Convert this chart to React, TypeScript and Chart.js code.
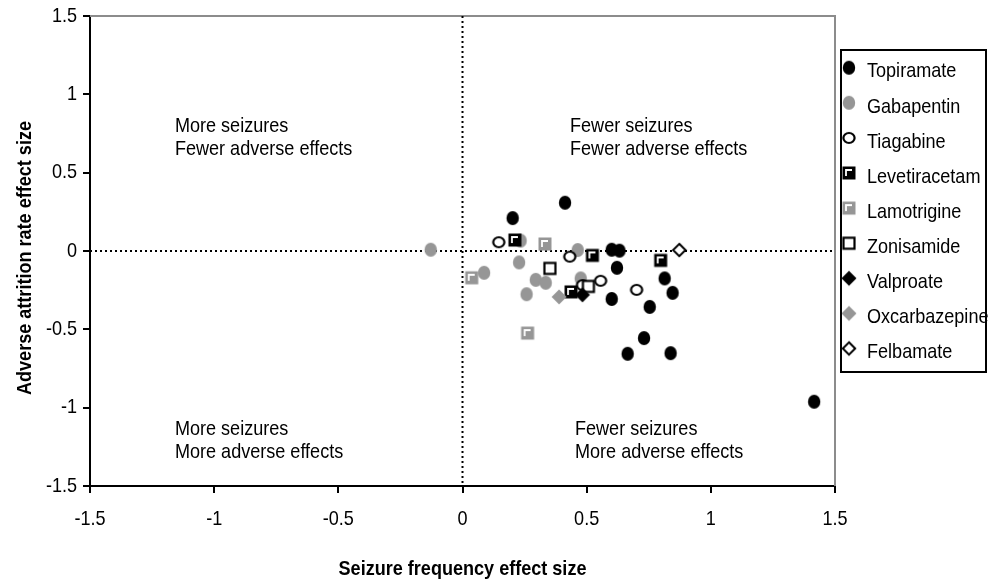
import React, { useEffect, useRef } from 'react';
import { Chart, registerables } from 'chart.js';

Chart.register(...registerables);

const FONT = "'Liberation Sans', Arial, sans-serif";
const SQUEEZE = 0.86; // horizontal condensing to mimic a narrow face

// ---- data (x = seizure frequency effect size, y = adverse attrition rate effect size)
const seriesNames = [
  'Topiramate', 'Gabapentin', 'Tiagabine', 'Levetiracetam', 'Lamotrigine',
  'Zonisamide', 'Valproate', 'Oxcarbazepine', 'Felbamate',
];

const topiramate = [
  [0.202, 0.21], [0.413, 0.308], [0.601, 0.008], [0.632, 0.002], [0.622, -0.107],
  [0.814, -0.175], [0.846, -0.267], [0.601, -0.306], [0.754, -0.357], [0.731, -0.556],
  [0.665, -0.656], [0.838, -0.652], [1.416, -0.962],
];
const gabapentin = [
  [-0.128, 0.008], [0.234, 0.066], [0.228, -0.073], [0.087, -0.139], [0.295, -0.184],
  [0.335, -0.203], [0.258, -0.276], [0.464, 0.006], [0.476, -0.175],
];
const tiagabine = [
  [0.146, 0.056], [0.432, -0.036], [0.556, -0.19], [0.483, -0.218], [0.701, -0.248],
];
const levetiracetam = [[0.211, 0.07], [0.523, -0.028], [0.798, -0.06], [0.437, -0.261]];
const lamotrigine = [[0.332, 0.045], [0.037, -0.171], [0.262, -0.524]];
const zonisamide = [[0.352, -0.111], [0.507, -0.226]];
const valproate = [[0.483, -0.28]];
const oxcarbazepine = [[0.389, -0.293]];
const felbamate = [[0.873, 0.006]];

const seriesData = [
  topiramate, gabapentin, tiagabine, levetiracetam, lamotrigine,
  zonisamide, valproate, oxcarbazepine, felbamate,
];

const xTicks = [-1.5, -1, -0.5, 0, 0.5, 1, 1.5];
const yTicks = [-1.5, -1, -0.5, 0, 0.5, 1, 1.5];

const xTitle = 'Seizure frequency effect size';
const yTitle = 'Adverse attrition rate effect size';

// quadrant captions anchored in data coordinates
const quadrantNotes = [
  { x: -1.158, y: 0.798, lines: ['More seizures', 'Fewer adverse effects'] },
  { x: 0.433, y: 0.798, lines: ['Fewer seizures', 'Fewer adverse effects'] },
  { x: -1.158, y: -1.135, lines: ['More seizures', 'More adverse effects'] },
  { x: 0.453, y: -1.135, lines: ['Fewer seizures', 'More adverse effects'] },
];

// ---- marker drawing
const GRAY = '#969696';
const markerKinds = [
  'dotBlack', 'dotGray', 'ring', 'sqBlackL', 'sqGrayL', 'sqOpen', 'diaBlack', 'diaGray', 'diaOpen',
];

function makeMarker(kind: string): HTMLCanvasElement {
  const c = document.createElement('canvas');
  c.width = 18;
  c.height = 18;
  const g = c.getContext('2d') as CanvasRenderingContext2D;
  const cx = 9;
  const cy = 9;
  const diamond = (r: number) => {
    g.beginPath();
    g.moveTo(cx, cy - r);
    g.lineTo(cx + r, cy);
    g.lineTo(cx, cy + r);
    g.lineTo(cx - r, cy);
    g.closePath();
  };
  switch (kind) {
    case 'dotBlack':
    case 'dotGray':
      g.fillStyle = kind === 'dotBlack' ? '#000' : GRAY;
      g.beginPath();
      g.ellipse(cx, cy, 6.2, 7.0, 0, 0, Math.PI * 2);
      g.fill();
      break;
    case 'ring':
      g.strokeStyle = '#000';
      g.fillStyle = '#fff';
      g.lineWidth = 2.2;
      g.beginPath();
      g.ellipse(cx, cy, 5.6, 5.0, 0, 0, Math.PI * 2);
      g.fill();
      g.stroke();
      break;
    case 'sqBlackL':
    case 'sqGrayL':
      g.fillStyle = kind === 'sqBlackL' ? '#000' : GRAY;
      g.fillRect(2.5, 2.5, 13, 13);
      g.strokeStyle = '#fff';
      g.lineWidth = 1.8;
      g.beginPath();
      g.moveTo(6, 12);
      g.lineTo(6, 6);
      g.lineTo(12, 6);
      g.stroke();
      break;
    case 'sqOpen':
      g.fillStyle = '#fff';
      g.fillRect(3.5, 3.5, 11, 11);
      g.strokeStyle = '#000';
      g.lineWidth = 2.2;
      g.strokeRect(3.5, 3.5, 11, 11);
      break;
    case 'diaBlack':
    case 'diaGray':
      g.fillStyle = kind === 'diaBlack' ? '#000' : GRAY;
      diamond(7.5);
      g.fill();
      break;
    case 'diaOpen':
      g.fillStyle = '#fff';
      g.strokeStyle = '#000';
      g.lineWidth = 2;
      diamond(6.2);
      g.fill();
      g.stroke();
      break;
  }
  return c;
}

function text(
  ctx: CanvasRenderingContext2D, s: string, x: number, y: number,
  opts: { size?: number; bold?: boolean; align?: CanvasTextAlign; rotate?: boolean } = {},
) {
  const { size = 21, bold = false, align = 'left', rotate = false } = opts;
  ctx.save();
  ctx.translate(x, y);
  if (rotate) ctx.rotate(-Math.PI / 2);
  ctx.scale(SQUEEZE, 1);
  ctx.font = `${bold ? 'bold ' : ''}${size}px ${FONT}`;
  ctx.textAlign = align;
  ctx.textBaseline = 'middle';
  ctx.fillStyle = '#000';
  ctx.fillText(s, 0, 0);
  ctx.restore();
}

export default function App() {
  const ref = useRef<HTMLCanvasElement | null>(null);

  useEffect(() => {
    document.body.style.margin = '0';
    const canvas = ref.current;
    if (!canvas) return;
    const markers = markerKinds.map(makeMarker);

    const datasets = seriesNames.map((name, i) => ({
      label: name,
      data: seriesData[i].map(([x, y]) => ({ x, y })),
      pointStyle: markers[i],
      pointRadius: 7,
      order: seriesNames.length - i,
      showLine: false,
    }));

    const overlay = {
      id: 'overlay',
      beforeDatasetsDraw(chart: any) {
        const { ctx, chartArea: a, scales } = chart;
        const xs = scales.x;
        const ys = scales.y;
        ctx.save();
        // top & right frame (gray)
        ctx.strokeStyle = '#8c8c8c';
        ctx.lineWidth = 2;
        ctx.beginPath();
        ctx.moveTo(a.left, a.top);
        ctx.lineTo(a.right, a.top);
        ctx.lineTo(a.right, a.bottom);
        ctx.stroke();
        // dotted zero lines
        ctx.strokeStyle = '#000';
        ctx.lineWidth = 2;
        ctx.setLineDash([2, 3]);
        const x0 = xs.getPixelForValue(0);
        const y0 = ys.getPixelForValue(0);
        ctx.beginPath();
        ctx.moveTo(x0, a.top);
        ctx.lineTo(x0, a.bottom);
        ctx.moveTo(a.left, y0);
        ctx.lineTo(a.right, y0);
        ctx.stroke();
        ctx.setLineDash([]);
        ctx.restore();
        // quadrant captions
        quadrantNotes.forEach((n) => {
          const px = xs.getPixelForValue(n.x);
          const py = ys.getPixelForValue(n.y);
          n.lines.forEach((t, k) => text(ctx, t, px, py + k * 23));
        });
      },
      afterDraw(chart: any) {
        const { ctx, chartArea: a, scales } = chart;
        const xs = scales.x;
        const ys = scales.y;
        // tick labels
        xTicks.forEach((v) => text(ctx, String(v), xs.getPixelForValue(v), a.bottom + 33, { align: 'center' }));
        yTicks.forEach((v) => text(ctx, String(v), a.left - 13, ys.getPixelForValue(v), { align: 'right' }));
        // axis titles
        text(ctx, xTitle, (a.left + a.right) / 2, 569, { bold: true, align: 'center' });
        text(ctx, yTitle, 25, 258, { bold: true, align: 'center', rotate: true });
        // legend
        ctx.save();
        const left = a.right + 6;
        const top = 50;
        const rowH = 35.1;
        const w = 145;
        const h = 322;
        ctx.fillStyle = '#fff';
        ctx.fillRect(left, top, w, h);
        ctx.restore();
        seriesNames.forEach((name, i) => {
          const cy = top + 21.7 + i * rowH;
          const m = markers[i];
          ctx.drawImage(m, left + 8 - m.width / 2, cy - 4 - m.height / 2);
          text(ctx, name, left + 26, cy);
        });
        ctx.save();
        ctx.strokeStyle = '#000';
        ctx.lineWidth = 2;
        ctx.strokeRect(left, top, w, h);
        ctx.restore();
      },
    };

    const chart = new Chart(canvas, {
      type: 'scatter',
      data: { datasets },
      plugins: [overlay],
      options: {
        animation: false,
        responsive: false,
        devicePixelRatio: 1,
        layout: { padding: { top: 16, right: 154, bottom: 4, left: 0 } },
        plugins: { legend: { display: false }, tooltip: { enabled: false } },
        scales: {
          x: {
            type: 'linear',
            min: -1.5,
            max: 1.5,
            afterBuildTicks: (s: any) => { s.ticks = xTicks.map((v) => ({ value: v })); },
            afterFit: (s: any) => { s.height = 94; },
            grid: { drawOnChartArea: false, drawTicks: true, tickLength: 7, color: '#000', lineWidth: 2 },
            border: { display: true, color: '#000', width: 2 },
            ticks: { display: false },
            title: { display: false, text: xTitle },
          },
          y: {
            type: 'linear',
            min: -1.5,
            max: 1.5,
            afterBuildTicks: (s: any) => { s.ticks = yTicks.map((v) => ({ value: v })); },
            afterFit: (s: any) => { s.width = 90; },
            grid: { drawOnChartArea: false, drawTicks: true, tickLength: 7, color: '#000', lineWidth: 2 },
            border: { display: true, color: '#000', width: 2 },
            ticks: { display: false },
            title: { display: false, text: yTitle },
          },
        },
      } as any,
    });

    return () => chart.destroy();
  }, []);

  return (
    <div style={{ width: 989, height: 584, background: '#fff' }}>
      <canvas ref={ref} width={989} height={584} style={{ display: 'block' }} />
    </div>
  );
}
